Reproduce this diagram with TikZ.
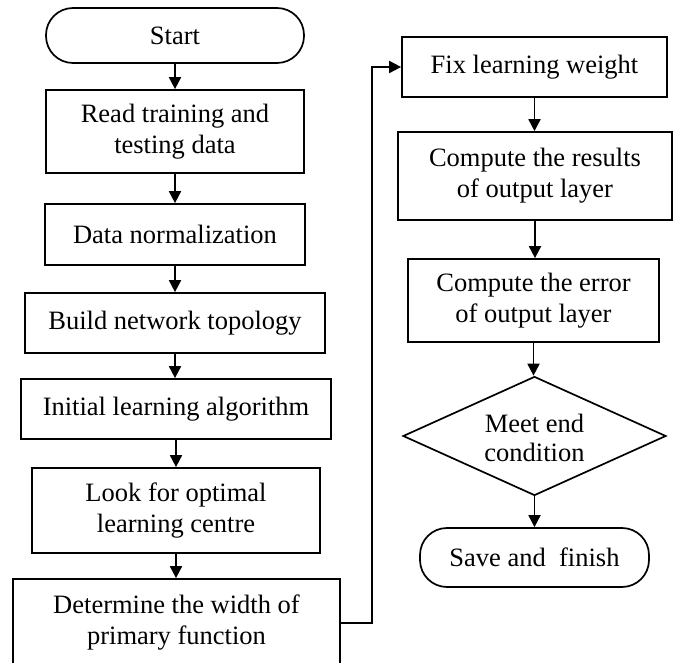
\documentclass[tikz,border=0pt]{standalone}
\usepackage{fontspec}
\setmainfont{Liberation Serif}
\usetikzlibrary{arrows.meta,shapes.geometric}
\begin{document}
\begin{tikzpicture}[x=1pt,y=-1pt,
  box/.style={draw, line width=1.7pt, inner sep=0pt, align=center,
              font=\fontsize{26.5}{31}\selectfont},
  term/.style={box, rounded corners=27pt},
  txt/.style={inner sep=0pt, align=center, font=\fontsize{26.5}{29}\selectfont},
  flow/.style={line width=1.8pt, -{Triangle[length=12pt,width=12pt]}}]
\useasboundingbox (0,0) rectangle (673,663);
\clip (0,0) rectangle (673,663);

% left column
\node[term, minimum width=258pt, minimum height=55pt] (start) at (175,35.5) {Start};
\node[box, minimum width=258pt, minimum height=83pt] (read) at (175,131.5) {Read training and\\testing data};
\node[box, minimum width=260pt, minimum height=61pt] (norm) at (175,234.5) {Data normalization};
\node[box, minimum width=300pt, minimum height=60pt] (topo) at (175,323) {Build network topology};
\node[box, minimum width=310pt, minimum height=60pt] (init) at (176,409) {Initial learning algorithm};
\node[box, minimum width=288pt, minimum height=85pt] (look) at (176,510.5) {Look for optimal\\learning centre};
\node[box, minimum width=327pt, minimum height=88pt] (det) at (176.5,623) {Determine the width of\\primary function};

% right column
\node[box, minimum width=265pt, minimum height=60pt] (fix) at (534.5,67) {Fix learning weight};
\node[box, minimum width=274pt, minimum height=88pt] (res) at (535,176) {Compute the results\\of output layer};
\node[box, minimum width=251pt, minimum height=83pt] (err) at (533.5,300.5) {Compute the error\\of output layer};
\node[diamond, draw, line width=1.7pt, inner sep=0pt, minimum width=263pt, minimum height=119pt] (meet) at (534.5,436) {};
\node[txt] (meettext) at (534.5,438) {Meet end\\condition};
\node[term, minimum width=229pt, minimum height=59pt] (save) at (534.5,557.5) {Save and~ finish};

% connectors
\draw[flow] (start.south) -- (start.south |- read.north);
\draw[flow] (read.south) -- (read.south |- norm.north);
\draw[flow] (norm.south) -- (norm.south |- topo.north);
\draw[flow] (topo.south) -- (topo.south |- init.north);
\draw[flow] (init.south) -- (init.south |- look.north);
\draw[flow] (look.south) -- (look.south |- det.north);
\draw[flow] (det.east) -- ++(31,0) |- (fix.west);
\draw[flow] (fix.south) -- (fix.south |- res.north);
\draw[flow] (res.south) -- (res.south |- err.north);
\draw[flow] (err.south) -- (err.south |- meet.north);
\draw[flow] (meet.south) -- (meet.south |- save.north);
\end{tikzpicture}
\end{document}
